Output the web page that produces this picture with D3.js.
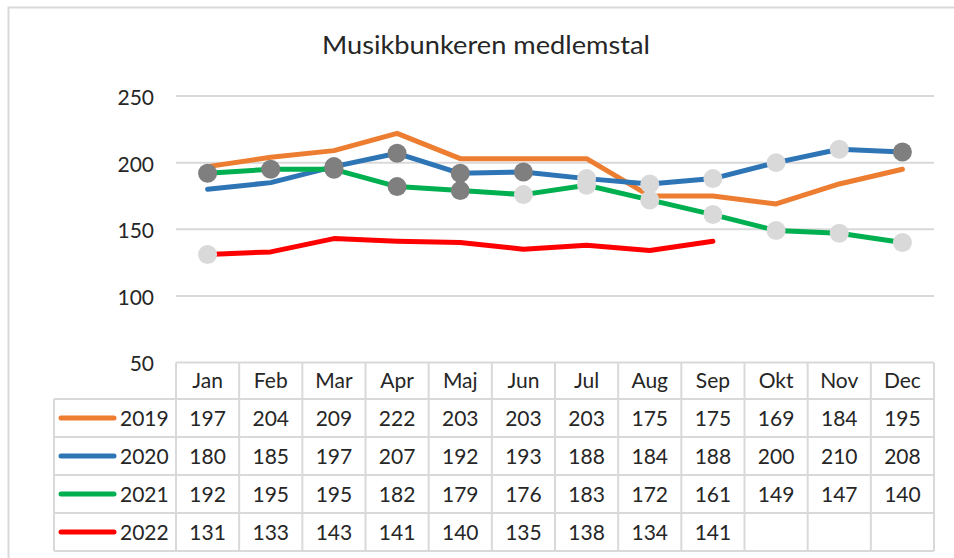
<!DOCTYPE html>
<html><head><meta charset="utf-8">
<script src="https://cdn.jsdelivr.net/npm/d3@7"></script>
<style>html,body{margin:0;padding:0;background:#fff;} svg{display:block;font-family:Lato,"Open Sans",sans-serif;}</style>
</head><body>
<svg id="c" width="954" height="558"></svg>
<script>
const title = "Musikbunkeren medlemstal";
const months = ["Jan","Feb","Mar","Apr","Maj","Jun","Jul","Aug","Sep","Okt","Nov","Dec"];
const seriesNames = ["2019","2020","2021","2022"];
const values2019 = [197,204,209,222,203,203,203,175,175,169,184,195];
const values2020 = [180,185,197,207,192,193,188,184,188,200,210,208];
const values2021 = [192,195,195,182,179,176,183,172,161,149,147,140];
const values2022 = [131,133,143,141,140,135,138,134,141,null,null,null];
const yTicks = [50,100,150,200,250];
// highlighted points (dark / light) as shown in the picture
const markers2020 = [null,null,"dark","dark","dark","dark","light","light","light","light","light","dark"];
const markers2021 = ["dark","dark","dark","dark","dark","light","light","light","light","light","light","light"];
const markers2022 = ["light",null,null,null,null,null,null,null,null,null,null,null];

const colors = {"2019":"#ED7D31","2020":"#2E75B6","2021":"#00B050","2022":"#FF0000"};
const markerColors = {dark:"#7F7F7F", light:"#D9D9D9"};
const grid = "#D9D9D9";
const txt = "#262626";

const series = [
  {name:"2019", values:values2019, markers:null},
  {name:"2020", values:values2020, markers:markers2020},
  {name:"2021", values:values2021, markers:markers2021},
  {name:"2022", values:values2022, markers:markers2022}
];

const svg = d3.select("#c");
// chart frame
svg.append("rect").attr("x",8.5).attr("y",7.5).attr("width",1000).attr("height",700)
  .attr("fill","none").attr("stroke",grid).attr("stroke-width",2);

svg.append("text").attr("x",486).attr("y",54).attr("text-anchor","middle")
  .attr("font-size",25).attr("fill",txt).attr("textLength",328).attr("lengthAdjust","spacingAndGlyphs").text(title);

const x = d3.scaleBand().domain(months).range([176,934]);
const y = d3.scaleLinear().domain([50,250]).range([362.5,96]);
const bw = x.bandwidth();

// gridlines
svg.append("g").selectAll("line").data(yTicks.filter(t=>t>50)).join("line")
  .attr("x1",176).attr("x2",934).attr("y1",d=>y(d)).attr("y2",d=>y(d))
  .attr("stroke",grid).attr("stroke-width",2);

// y axis labels
const yAxis = d3.axisLeft(y).tickValues(yTicks).tickSize(0).tickPadding(0);
const ga = svg.append("g").attr("transform","translate(154,0)").call(yAxis);
ga.select(".domain").remove();
ga.selectAll("text").attr("font-size",21).attr("fill",txt).attr("font-family","Lato,sans-serif")
  .attr("dy",null).attr("dominant-baseline","central");
ga.selectAll(".tick").filter(d=>d===50).select("text").attr("y",-1);

// lines
const line = d3.line().defined(d=>d.v!=null).x(d=>x(d.m)+bw/2).y(d=>y(d.v));
series.forEach(s=>{
  svg.append("path").datum(months.map((m,i)=>({m, v:s.values[i]})))
    .attr("d",line).attr("fill","none").attr("stroke",colors[s.name])
    .attr("stroke-width",5).attr("stroke-linejoin","round").attr("stroke-linecap","round");
});
// markers
series.forEach(s=>{
  if(!s.markers) return;
  const pts = months.map((m,i)=>({m, v:s.values[i], t:s.markers[i]})).filter(d=>d.t && d.v!=null);
  svg.append("g").selectAll("circle").data(pts).join("circle")
    .attr("cx",d=>x(d.m)+bw/2).attr("cy",d=>y(d.v)).attr("r",9.5)
    .attr("fill",d=>markerColors[d.t]);
});

// data table
const tTop = 362.5, hH = 36.5, rH = 38, legL = 54;
const tb = svg.append("g");
const rowsBottom = tTop + hH + rH*series.length;
// horizontal lines
tb.append("line").attr("x1",176).attr("x2",934).attr("y1",tTop).attr("y2",tTop).attr("stroke",grid).attr("stroke-width",2);
d3.range(series.length+1).forEach(i=>{
  const yy = tTop + hH + rH*i;
  tb.append("line").attr("x1",legL).attr("x2",934).attr("y1",yy).attr("y2",yy).attr("stroke",grid).attr("stroke-width",2);
});
// vertical lines
tb.append("line").attr("x1",legL).attr("x2",legL).attr("y1",tTop+hH).attr("y2",rowsBottom).attr("stroke",grid).attr("stroke-width",2);
months.forEach(m=>{
  tb.append("line").attr("x1",x(m)).attr("x2",x(m)).attr("y1",tTop).attr("y2",rowsBottom).attr("stroke",grid).attr("stroke-width",2);
});
tb.append("line").attr("x1",934).attr("x2",934).attr("y1",tTop).attr("y2",rowsBottom).attr("stroke",grid).attr("stroke-width",2);
// header
tb.selectAll("text.h").data(months).join("text").attr("class","h")
  .attr("x",d=>x(d)+bw/2).attr("y",tTop+hH/2+7.5).attr("text-anchor","middle")
  .attr("font-size",21).attr("fill",txt).text(d=>d);
// rows
series.forEach((s,i)=>{
  const cy = tTop + hH + rH*i + rH/2;
  tb.append("line").attr("x1",61).attr("x2",114).attr("y1",cy).attr("y2",cy)
    .attr("stroke",colors[s.name]).attr("stroke-width",5).attr("stroke-linecap","round");
  tb.append("text").attr("x",120).attr("y",cy+7.5).attr("font-size",21).attr("fill",txt).text(s.name);
  tb.selectAll(null).data(months.map((m,j)=>({m,v:s.values[j]})).filter(d=>d.v!=null)).join("text")
    .attr("x",d=>x(d.m)+bw/2).attr("y",cy+7.5).attr("text-anchor","middle")
    .attr("font-size",21).attr("fill",txt).text(d=>d.v);
});
</script>
</body></html>
